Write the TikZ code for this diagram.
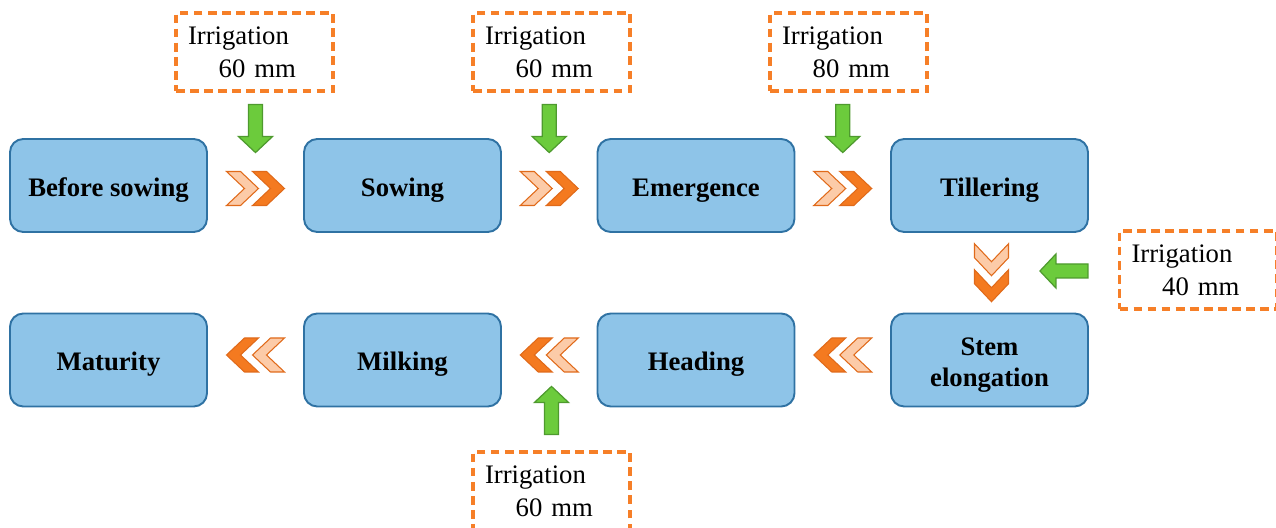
\documentclass[tikz,border=0pt]{standalone}
\usepackage{fontspec}
\setmainfont{Liberation Serif}
\usepackage{xcolor}
\usepackage{tikz}
\usetikzlibrary{calc}
\definecolor{stagebg}{HTML}{8EC4E8}
\definecolor{stagebd}{HTML}{2F72A3}
\definecolor{irrbd}{HTML}{F67F28}
\definecolor{chevlt}{HTML}{FCCBA8}
\definecolor{chevdk}{HTML}{F47A20}
\definecolor{chevbd}{HTML}{E06A1A}
\definecolor{grnbg}{HTML}{6CCB3C}
\definecolor{grnbd}{HTML}{4E9A2E}
\tikzset{
  stage/.style={draw=stagebd,fill=stagebg,rounded corners=7.5pt,
                line width=1.1pt,minimum width=3.94cm,minimum height=1.86cm,
                align=center,text height=12pt,text depth=0pt,
                font=\bfseries\fontsize{15.2}{17.6}\selectfont},
  irrbox/.style={draw=irrbd,dash pattern=on 5pt off 3pt,line width=1.8pt,
                 minimum width=3.14cm,minimum height=1.56cm,text width=2.66cm,
                 inner xsep=0.24cm,align=left,
                 font=\fontsize{15.2}{18.6}\selectfont},
  chevlight/.style={fill=chevlt,draw=chevbd,line width=0.6pt,line join=miter},
  chevdark/.style={fill=chevdk,draw=chevbd,line width=0.6pt,line join=miter},
  greenarr/.style={fill=grnbg,draw=grnbd,line width=0.7pt,line join=miter},
  chev/.pic={
    \path[chevlight] (-29,17) -- (-15,17) -- (3,0) -- (-15,-17) -- (-29,-17)
      -- (-11,0) -- cycle;
    \path[chevdark] (-3,17) -- (11,17) -- (29,0) -- (11,-17) -- (-3,-17)
      -- (15,0) -- cycle;
  },
  garrow/.pic={
    \path[greenarr] (-24,-7) -- (8,-7) -- (8,-17) -- (24,0) -- (8,17)
      -- (8,7) -- (-24,7) -- cycle;
  },
}
\newcommand{\irrtext}[1]{Irrigation\\\hspace*{1.15em}#1}

\begin{document}
\begin{tikzpicture}[x=0.02cm,y=0.02cm]
  \useasboundingbox (0,0) rectangle (1276,528);

  % ---- Growth stages, first row ----
  \node[stage] (bsow) at (108.5,342.5) {Before sowing};
  \node[stage] (sow)  at (402.5,342.5) {Sowing};
  \node[stage] (emer) at (696,342.5)   {Emergence};
  \node[stage] (till) at (989.5,342.5) {Tillering};

  % ---- Growth stages, second row ----
  \node[stage,text height=29.6pt] (stem) at (989.5,168) {Stem\\elongation};
  \node[stage] (head) at (696,168)   {Heading};
  \node[stage] (milk) at (402.5,168) {Milking};
  \node[stage] (mat)  at (108.5,168) {Maturity};

  % ---- Irrigation amounts ----
  \node[irrbox] (irrA) at (254.5,476) {\irrtext{60 mm}};
  \node[irrbox] (irrB) at (551.5,476) {\irrtext{60 mm}};
  \node[irrbox] (irrC) at (848.5,476) {\irrtext{80 mm}};
  \node[irrbox] (irrD) at (1198,258)  {\irrtext{40 mm}};
  \node[irrbox] (irrE) at (551.5,37)  {\irrtext{60 mm}};

  % ---- Chevrons between stages ----
  \coordinate (cA) at ($(bsow.east)!0.5!(sow.west)+(0,-3)$);
  \coordinate (cB) at ($(sow.east)!0.5!(emer.west)+(0,-3)$);
  \coordinate (cC) at ($(emer.east)!0.5!(till.west)+(0,-3)$);
  \coordinate (cD) at ($(till.south)!0.5!(stem.north)+(2,0)$);
  \coordinate (cE) at ($(stem.west)!0.5!(head.east)+(0,5)$);
  \coordinate (cF) at ($(head.west)!0.5!(milk.east)+(0,5)$);
  \coordinate (cG) at ($(milk.west)!0.5!(mat.east)+(0,5)$);
  \pic at (cA) {chev};
  \pic at (cB) {chev};
  \pic at (cC) {chev};
  \pic[rotate=-90] at (cD) {chev};
  \pic[rotate=180] at (cE) {chev};
  \pic[rotate=180] at (cF) {chev};
  \pic[rotate=180] at (cG) {chev};

  % ---- Green arrows from irrigation boxes ----
  \pic[rotate=-90] at ($(cA |- irrA.south)+(0,-36)$) {garrow};
  \pic[rotate=-90] at ($(cB |- irrB.south)+(0,-36)$) {garrow};
  \pic[rotate=-90] at ($(cC |- irrC.south)+(0,-36)$) {garrow};
  \pic[rotate=180] at ($(irrD.west)+(-54,-1)$) {garrow};
  \pic[rotate=90]  at ($(irrE.north)+(0,40)$) {garrow};
\end{tikzpicture}
\end{document}
